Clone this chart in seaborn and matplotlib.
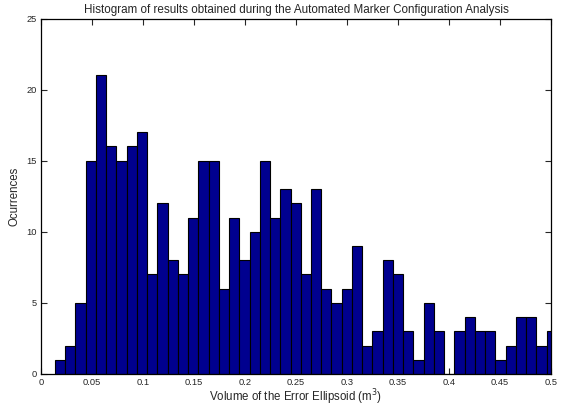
import numpy as np
import pandas as pd
import matplotlib
matplotlib.use("Agg")
import matplotlib.pyplot as plt
import seaborn as sns

# Histogram counts (49 bins, width ~0.01)
counts = [1, 2, 5, 15, 21, 16, 15, 16, 17, 7,
          12, 8, 7, 11, 15, 15, 6, 11, 8, 10,
          15, 11, 13, 12, 7, 13, 6, 5, 6, 9,
          2, 3, 8, 7, 3, 1, 5, 3, 0, 3,
          4, 3, 3, 1, 2, 4, 4, 2, 3]
first_edge = 0.0137
bin_width = 0.01004
edges = [first_edge + bin_width * i for i in range(len(counts) + 1)]
centers = [(edges[i] + edges[i + 1]) / 2 for i in range(len(counts))]

xticks = [0, 0.05, 0.1, 0.15, 0.2, 0.25, 0.3, 0.35, 0.4, 0.45, 0.5]
xticklabels = ["0", "0.05", "0.1", "0.15", "0.2", "0.25", "0.3", "0.35", "0.4", "0.45", "0.5"]
yticks = [0, 5, 10, 15, 20, 25]

df = pd.DataFrame({"volume": centers, "count": counts})

sns.set_style("white")
plt.rcParams['font.family'] = ['Liberation Sans', 'DejaVu Sans']

fig = plt.figure(figsize=(5.63, 4.07), dpi=100)
ax = fig.add_axes([0.0728, 0.0811, 0.9787 - 0.0728, 0.9545 - 0.0811])

sns.histplot(data=df, x="volume", weights="count", bins=edges, ax=ax,
             color="#00008F", edgecolor="black", linewidth=0.8, alpha=1.0,
             stat="count")

ax.set_xlim(0, 0.5)
ax.set_ylim(0, 25)
ax.set_xticks(xticks)
ax.set_xticklabels(xticklabels)
ax.set_yticks(yticks)
ax.tick_params(direction="in", length=4, width=0.8, labelsize=6.7,
               top=True, right=True, bottom=True, left=True, pad=3)
for s in ax.spines.values():
    s.set_visible(True)
    s.set_linewidth(0.9)
    s.set_color("black")

ax.set_title("Histogram of results obtained during the Automated Marker Configuration Analysis",
             fontsize=8.4, pad=4)
ax.set_xlabel("Volume of the Error Ellipsoid (m$^3$)", fontsize=8.3, labelpad=0)
ax.set_ylabel("Ocurrences", fontsize=8.3, labelpad=4)

fig.savefig("out.png", dpi=100)
